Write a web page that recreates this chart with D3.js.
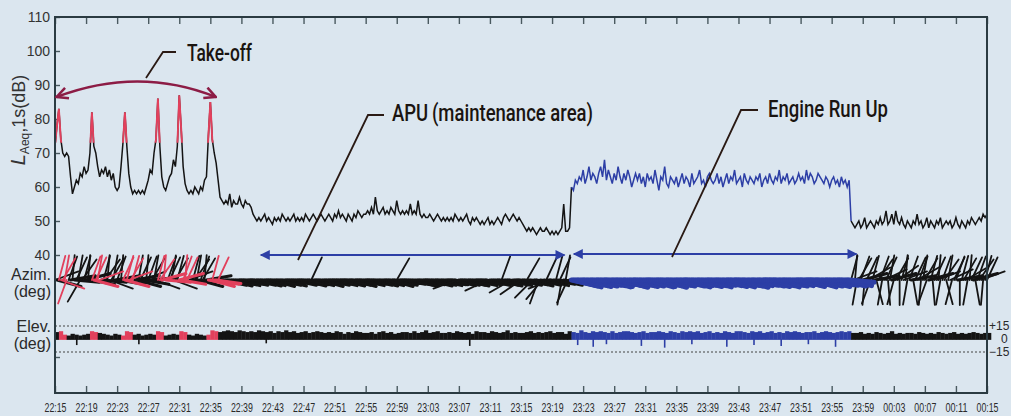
<!DOCTYPE html>
<html>
<head>
<meta charset="utf-8">
<script src="https://cdn.jsdelivr.net/npm/d3@7"></script>
<style>
  body { margin: 0; background: #dbe6ef; }
  svg { display: block; }
</style>
</head>
<body>
<svg id="vis"></svg>
<script>
const SVG = d3.select('#vis');
const WIDTH = 1011;
const HEIGHT = 416;

// minutes after 22:15
const STEP_LAEQ = 0.25;
const STEP_AZIM = 0.25;
const STEP_ELEV = 0.5;
const tickMins = d3.range(0, 121, 4);
const timeLabels = ["22:15","22:19","22:23","22:27","22:31","22:35","22:39","22:43","22:47","22:51",
  "22:55","22:59","23:03","23:07","23:11","23:15","23:19","23:23","23:27","23:31","23:35","23:39",
  "23:43","23:47","23:51","23:55","23:59","00:03","00:07","00:11","00:15"];
const dbTicks = [40, 50, 60, 70, 80, 90, 100, 110, 10];

const takeoffs = [0.6, 4.8, 9.0, 13.3, 16.1, 20.0];
const runUp = [66.5, 102.5];

// LAeq,1s  (dB) every 0.25 min
const laeq = [
  72,78,83,74,70,69,70,69,63,58,60,62,61,64,63,66,64,65,70,82,
  72,70,66,63,65,64,66,63,65,62,64,60,59,60,66,73,82,72,64,60,
  58,59,58,59,58,59,58,60,62,65,64,70,74,86,72,63,60,59,61,63,
  64,68,66,72,87,77,66,61,59,58,59,58,60,59,58,60,59,62,63,75,
  85,74,70,67,62,57,56,55,56,55,58,54,56,55,55,57,55,54,56,55,
  55,54,52,51,50,51,50,51,52,50,51,50,49,51,50,51,50,52,51,50,
  51,50,51,52,50,51,50,51,50,52,51,50,51,52,51,50,51,52,51,50,
  51,52,51,50,52,51,53,51,52,51,50,52,51,50,52,51,53,52,51,52,
  52,53,52,54,52,57,53,52,53,54,52,53,52,54,53,52,56,53,52,53,
  52,53,52,55,52,53,52,56,52,51,52,51,51,52,51,50,51,52,51,50,
  51,50,51,50,51,50,52,51,50,51,50,51,52,50,49,51,50,51,50,49,
  50,49,50,51,49,50,49,50,51,50,49,51,52,51,50,51,52,51,50,51,
  50,49,48,47,48,47,48,47,46,47,48,47,47,48,47,46,47,46,47,46,
  47,48,55,47,47,48,60,59,62,61,63,62,65,61,63,66,62,64,63,61,
  64,66,63,68,62,65,63,61,64,62,66,63,61,64,62,65,63,60,62,64,
  62,64,61,63,60,64,62,63,61,65,62,59,63,62,66,61,60,63,62,61,
  63,60,62,64,61,63,62,60,64,61,62,63,65,61,62,60,63,64,62,61,
  62,64,61,63,60,62,64,61,63,62,65,61,62,63,60,64,62,61,63,62,
  61,63,62,64,60,62,63,61,64,62,61,63,62,65,61,63,62,64,61,62,
  63,61,62,64,62,63,61,65,62,64,63,61,62,64,63,62,61,63,62,60,
  62,63,61,62,60,63,61,62,60,62,50,49,48,49,50,48,49,51,48,49,
  50,49,48,50,49,51,49,50,53,49,50,52,49,53,50,49,51,49,48,50,
  49,48,50,49,52,49,50,48,49,51,48,50,49,48,50,49,51,48,49,50,
  49,50,48,49,51,49,48,50,49,48,50,49,51,50,49,50,51,50,52,51,
  52
];

// azimuth needle direction (deg, screen angle) every 0.25 min
const azim = [
  20,-15,75,-20,60,80,-110,70,10,85,-5,65,80,-120,55,75,15,85,-10,70,
  -15,65,80,20,-5,75,55,85,-20,60,80,10,70,-10,85,65,-15,75,20,60,
  75,10,-15,80,65,20,-10,85,70,5,60,80,-20,75,55,15,85,-5,70,65,
  80,-20,60,75,15,-10,70,85,65,20,-5,75,55,80,-15,70,60,85,10,-10,
  -15,75,-10,-8,65,-6,-12,-4,-9,-14,-5,-11,-7,-13,-3,-10,-6,-12,-8,-4,
  -5,-12,-9,-4,-14,-6,-13,-8,-3,-11,-7,-15,-9,-5,-12,-6,-10,-14,-4,-8,
  -7,-4,-12,-10,-3,-9,-5,-14,-11,-6,-8,-13,65,-4,-10,-7,-15,-9,-5,-12,
  -4,-10,-3,-13,-6,-11,-2,-14,-7,-9,-12,-5,-8,-15,-3,-10,-6,-13,-9,-4,
  -3,-12,-8,-5,-14,-10,-6,-13,-9,-4,-11,-7,-15,-5,-12,-8,60,-3,-10,-6,
  -9,-5,-12,-8,-14,-13,-6,-9,-11,-5,-3,-10,-14,-7,-12,-4,-8,-13,-6,-11,
  -11,-3,-9,-6,-13,-8,-12,200,-4,-12,-7,-14,-5,-10,-8,-13,-3,-11,-6,-9,
  -7,-6,-13,205,-10,-9,-12,-4,-14,-8,70,-11,-5,-13,-7,210,-9,-3,-12,-6,
  215,-11,-8,60,-14,-5,225,-9,-12,-110,-7,230,-13,65,-4,-10,200,-8,75,-12,
  65,-100,-9,80,-115,-5,-12,-14,-8,-16,-10,-6,-13,-9,-15,-7,-11,-14,-5,-12,
  -8,-13,-4,-11,-16,-15,-7,-10,-5,-12,-9,-14,-6,-17,-11,-8,-13,-4,-15,-10,
  -6,-14,-11,-8,-3,-12,-16,-15,-9,-4,-13,-7,-10,-17,-5,-12,-8,-14,-11,-6,
  -11,-6,-14,-3,-9,-16,-13,-7,-12,-10,-5,-15,-8,-13,-11,-4,-16,-9,-12,-7,
  -5,-13,-10,-8,-15,-4,-11,-7,-16,-3,-12,-9,-14,-6,-10,-17,-8,-13,-5,-11,
  -12,-6,-9,-14,-2,-10,-15,-8,-13,-5,-11,-16,-7,-12,-4,-14,-9,-6,-13,-10,
  -9,-3,-12,-6,-15,-8,-2,-11,-7,-13,-16,-5,-10,-14,-8,-12,-4,-15,-9,-11,
  -6,-12,-4,-10,-8,-14,-11,-7,-13,-5,75,20,85,-100,60,70,15,-95,65,30,
  -110,75,10,-75,55,70,-100,25,65,-85,80,15,-105,60,35,-90,75,20,85,-100,
  70,10,-80,65,30,70,-95,80,60,-110,15,75,-85,65,20,85,-100,70,55,-75,
  80,25,-105,65,70,10,-90,75,60,30,-100,85,65,15,-80,70,55,20,-95,75,
  65
];

// elevation (deg) every 0.5 min
const elev = [
  8,9,5,4,6,5,4,5,6,9,
  8,7,6,5,4,6,5,4,9,8,
  5,6,4,5,6,5,9,8,4,5,
  6,5,9,8,5,4,6,5,4,5,
  10,9,8,9,10,9,8,10,9,8,
  9,8,10,9,8,9,7,9,8,10,
  8,9,7,8,9,7,8,9,8,7,
  8,7,9,8,6,8,7,9,8,7,
  7,8,6,8,9,7,8,6,7,8,
  8,7,9,7,8,10,7,8,9,7,
  7,8,7,9,8,7,8,6,9,8,
  8,7,9,8,7,8,10,7,8,7,
  7,8,9,7,8,7,8,9,7,8,
  8,6,9,8,7,10,8,7,9,8,
  9,8,7,9,7,8,9,9,8,7,
  8,9,7,8,8,9,8,7,9,8,
  7,9,8,9,8,9,7,8,9,7,
  8,7,9,8,7,9,9,8,7,9,
  8,9,7,8,9,7,8,7,9,8,
  9,8,7,8,8,9,7,8,9,8,
  7,8,9,8,9,7,7,8,6,7,
  6,8,7,6,7,9,6,7,6,7,
  7,6,8,7,6,7,6,8,7,6,
  7,8,6,7,6,7,8,7,6,7,
  7
];
const elevDips = [[2.8,-7],[10.8,-6],[27.2,-5],[53.4,-8],[67.3,-7],[69.3,-9],[71.0,-6],
  [75.5,-8],[78.5,-10],[82.0,-6],[86.5,-9],[90.0,-7],[93.5,-8],[97.0,-6],[100.5,-9]];

const BG = "#dbe6ef";
const INK = "#141414";
const RED = "#e2405c";
const BLUE = "#2d3fa6";
const AXIS = "#2b3b42";

SVG.attr("width", WIDTH).attr("height", HEIGHT);
SVG.append("rect").attr("width", WIDTH).attr("height", HEIGHT).attr("fill", BG);

const x = d3.scaleLinear().domain([0, 120]).range([55, 987]);
const y = d3.scaleLinear().domain([40, 110]).range([255, 17]);
const yE = d3.scaleLinear().domain([-15, 15]).range([352, 326]);
const AZ_Y = 280;
const NEEDLE = 25;

function dirColor(t, before, after) {
  if (t >= runUp[0] && t < runUp[1]) return BLUE;
  if (takeoffs.some(k => t >= k - before && t <= k + after)) return RED;
  return INK;
}

// --- frame and axes
const defs = SVG.append("defs");
defs.append("clipPath").attr("id", "peaks").append("rect")
  .attr("x", 0).attr("y", 0).attr("width", x(21.5)).attr("height", y(73));

const axTop = SVG.append("g").attr("transform", "translate(0,17)")
  .call(d3.axisBottom(x).tickValues(tickMins).tickSize(7).tickFormat(""));
const axBottom = SVG.append("g").attr("transform", "translate(0,393)")
  .call(d3.axisBottom(x).tickValues(tickMins).tickSize(-7).tickPadding(10)
    .tickFormat((d, i) => timeLabels[i]));
const axLeft = SVG.append("g").attr("transform", "translate(55,0)")
  .call(d3.axisLeft(y).tickValues(dbTicks).tickSize(-5).tickPadding(5)
    .tickFormat(d => d < 40 ? "" : d));

[axTop, axBottom, axLeft].forEach(g => {
  g.select(".domain").remove();
  g.selectAll(".tick line").attr("stroke", "#4a5a60").attr("stroke-width", 1.4);
});
axBottom.selectAll("text").attr("font-family", "Liberation Sans, Arial, sans-serif")
  .attr("font-size", 12).attr("fill", "#2a2a2a")
  .attr("textLength", 22).attr("lengthAdjust", "spacingAndGlyphs");
axLeft.selectAll("text").attr("font-family", "Liberation Sans, Arial, sans-serif")
  .attr("font-size", 14).attr("fill", "#333");

// dotted elevation guides
[15, -15].forEach(v => {
  SVG.append("line").attr("x1", x(0)).attr("x2", x(120)).attr("y1", yE(v)).attr("y2", yE(v))
    .attr("stroke", "#444").attr("stroke-width", 1.2).attr("stroke-dasharray", "2,2");
});

// --- LAeq trace
const line = d3.line().x(d => x(d[0])).y(d => y(d[1]));
const pts = laeq.map((v, i) => [i * STEP_LAEQ, v]);
const iA = Math.round(runUp[0] / STEP_LAEQ);
const iB = Math.round(runUp[1] / STEP_LAEQ);
const segA = pts.slice(0, iA + 1);
const segB = pts.slice(iA, iB + 1);
const segC = pts.slice(iB);

SVG.append("path").attr("d", line(segA)).attr("fill", "none").attr("stroke", INK).attr("stroke-width", 1.5);
SVG.append("path").attr("d", line(segA)).attr("fill", "none").attr("stroke", RED).attr("stroke-width", 1.9)
  .attr("clip-path", "url(#peaks)");
SVG.append("path").attr("d", line(segC)).attr("fill", "none").attr("stroke", INK).attr("stroke-width", 1.5);
SVG.append("path").attr("d", line(segB)).attr("fill", "none").attr("stroke", BLUE).attr("stroke-width", 1.5);

// --- azimuth needles
const rad = Math.PI / 180;
const dirPts = azim.map((a, i) => ({ t: i * STEP_AZIM, a: a, c: dirColor(i * STEP_AZIM, 0.25, 1.0) }));
const layer = d => d.c === INK ? 0 : 1;
SVG.append("g").selectAll("line")
  .data(dirPts.sort((p, q) => d3.ascending(layer(p), layer(q))))
  .join("line")
  .attr("x1", d => x(d.t))
  .attr("y1", AZ_Y)
  .attr("x2", d => x(d.t) + NEEDLE * Math.cos(d.a * rad))
  .attr("y2", d => AZ_Y - NEEDLE * Math.sin(d.a * rad))
  .attr("stroke", d => d.c)
  .attr("stroke-width", d => d.c === BLUE ? 5 : (Math.abs(d.a) < 20 ? 3 : 1.8))
  .attr("stroke-linecap", "round");

// --- elevation band
const bw = x(STEP_ELEV) - x(0);
SVG.append("g").selectAll("rect")
  .data(elev.map((v, i) => ({ t: i * STEP_ELEV, v: v })))
  .join("rect")
  .attr("x", d => x(d.t))
  .attr("width", bw + 0.4)
  .attr("y", d => yE(d.v))
  .attr("height", d => yE(-1) - yE(d.v))
  .attr("fill", d => dirColor(d.t, 0.5, 0.5));
SVG.append("g").selectAll("line")
  .data(elevDips).join("line")
  .attr("x1", d => x(d[0])).attr("x2", d => x(d[0]))
  .attr("y1", yE(0)).attr("y2", d => yE(d[1]))
  .attr("stroke", d => dirColor(d[0], 0.5, 0.5)).attr("stroke-width", 1.6);

// frame on top
SVG.append("rect").attr("x", x(0)).attr("y", 17).attr("width", x(120) - x(0)).attr("height", 393 - 17)
  .attr("fill", "none").attr("stroke", AXIS).attr("stroke-width", 2);

// --- labels
const font = "Liberation Sans, Arial, sans-serif";
const yl = SVG.append("text").attr("transform", "translate(25,120) rotate(-90)")
  .attr("text-anchor", "middle").attr("font-family", font).attr("font-size", 18).attr("fill", "#333");
yl.append("tspan").attr("font-style", "italic").attr("font-size", 20).text("L");
yl.append("tspan").attr("font-size", 12).attr("dy", 4).text("Aeq");
yl.append("tspan").attr("dy", -4).text(",1s(dB)");

[["Azim.", 280], ["(deg)", 297], ["Elev.", 332], ["(deg)", 349]].forEach(d => {
  SVG.append("text").attr("x", 51).attr("y", d[1]).attr("text-anchor", "end")
    .attr("font-family", font).attr("font-size", 16).attr("fill", "#2a2a2a").text(d[0]);
});
[["+15", 15, 989], ["0", 0, 1001], ["\u221215", -15, 989]].forEach(d => {
  SVG.append("text").attr("x", d[2]).attr("y", yE(d[1])).attr("dy", "0.35em")
    .attr("font-family", font).attr("font-size", 12).attr("fill", "#2a2a2a").text(d[0]);
});

// --- annotations
defs.append("marker").attr("id", "chev").attr("viewBox", "0 0 10 10")
  .attr("refX", 9).attr("refY", 5).attr("markerWidth", 14).attr("markerHeight", 14)
  .attr("markerUnits", "userSpaceOnUse").attr("orient", "auto-start-reverse")
  .append("path").attr("d", "M1,1 L9,5 L1,9").attr("fill", "none")
  .attr("stroke", "#8c1c45").attr("stroke-width", 1.8);
defs.append("marker").attr("id", "tri").attr("viewBox", "0 0 10 10")
  .attr("refX", 9).attr("refY", 5).attr("markerWidth", 11).attr("markerHeight", 10)
  .attr("markerUnits", "userSpaceOnUse").attr("orient", "auto-start-reverse")
  .append("path").attr("d", "M0,0 L10,5 L0,10 z").attr("fill", BLUE);

SVG.append("path").attr("d", `M${x(0.2)},97 Q${x(10.75)},66 ${x(20.7)},97`)
  .attr("fill", "none").attr("stroke", "#8c1c45").attr("stroke-width", 2.6)
  .attr("marker-start", "url(#chev)").attr("marker-end", "url(#chev)");

[[x(26.5), x(65.6), 255], [x(66.8), x(103.2), 254]].forEach(d => {
  SVG.append("line").attr("x1", d[0]).attr("x2", d[1]).attr("y1", d[2]).attr("y2", d[2])
    .attr("stroke", BLUE).attr("stroke-width", 2.2)
    .attr("marker-start", "url(#tri)").attr("marker-end", "url(#tri)");
});

const notes = [
  { text: "Take-off", tx: 187, ty: 61, w: 65, path: "M146,78 L163,52 L176,52" },
  { text: "APU\u2009(maintenance area)", tx: 392, ty: 121, w: 201, path: "M298,260 L368,115 L384,115" },
  { text: "Engine Run Up", tx: 768, ty: 117, w: 120, path: "M672,257 L741,110 L758,110" }
];
notes.forEach(n => {
  SVG.append("path").attr("d", n.path).attr("fill", "none").attr("stroke", "#2a1a14").attr("stroke-width", 1.8);
  SVG.append("text").attr("x", n.tx).attr("y", n.ty)
    .attr("font-family", "Roboto, Liberation Sans, sans-serif").attr("font-weight", 500)
    .attr("font-size", 24).attr("fill", "#1a1410")
    .attr("textLength", n.w).attr("lengthAdjust", "spacingAndGlyphs").text(n.text);
});
</script>
</body>
</html>
